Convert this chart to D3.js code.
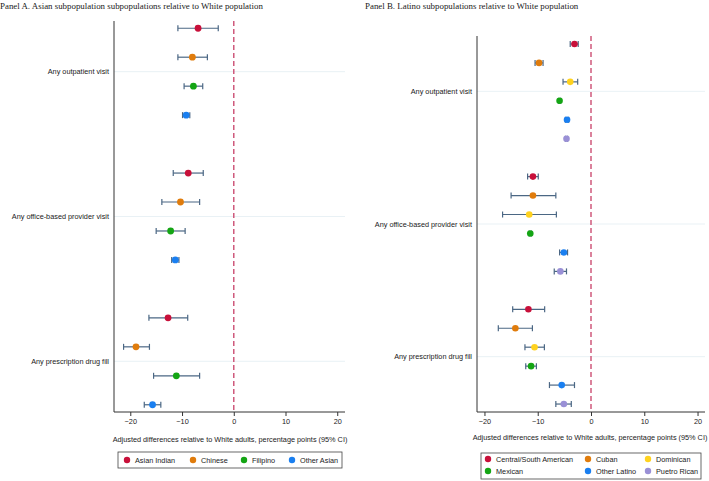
<!DOCTYPE html>
<html><head><meta charset="utf-8">
<script src="https://cdn.jsdelivr.net/npm/d3@7"></script>
<style>
body{margin:0;background:#fff;}
svg text{font-family:"Liberation Sans",Arial,sans-serif;fill:#1a1a1a;}
</style></head>
<body><svg id="c" width="709" height="481"></svg>
<script>
const outcomes = ["Any outpatient visit","Any office-based provider visit","Any prescription drug fill"];
const xTicks = [-20,-10,0,10,20];

// Panel A
const asianGroups = ["Asian Indian","Chinese","Filipino","Other Asian"];
const asianColors = ["#c8103a","#e07c0c","#14a514","#1a7ff0"];
const asianEst = [[-6.9,-8.0,-7.8,-9.2],[-8.8,-10.3,-12.2,-11.3],[-12.7,-18.9,-11.1,-15.7]];
const asianLo  = [[-10.8,-10.8,-9.6,-9.9],[-11.7,-13.9,-15.0,-12.0],[-16.4,-21.3,-15.5,-17.3]];
const asianHi  = [[-3.0,-5.1,-6.0,-8.5],[-5.9,-6.6,-9.4,-10.6],[-8.9,-16.3,-6.6,-14.1]];

// Panel B
const latinoGroups = ["Central/South American","Cuban","Dominican","Mexican","Other Latino","Puetro Rican"];
const latinoColors = ["#c8103a","#e07c0c","#ffd21f","#14a514","#1a7ff0","#9a90d6"];
const latinoEst = [[-3.1,-9.75,-3.9,-5.9,-4.5,-4.6],[-10.9,-10.9,-11.6,-11.4,-5.1,-5.75],[-11.75,-14.2,-10.6,-11.25,-5.5,-5.1]];
const latinoLo  = [[-3.9,-10.5,-5.25,-6.1,-4.8,-4.8],[-11.9,-15.0,-16.6,-11.6,-5.9,-6.9],[-14.7,-17.4,-12.4,-12.25,-7.8,-6.6]];
const latinoHi  = [[-2.4,-9.0,-2.5,-5.7,-4.2,-4.4],[-9.9,-6.6,-6.5,-11.2,-4.4,-4.6],[-8.7,-11.0,-8.75,-10.25,-3.1,-3.7]];

const FS = "7.3px";
const svg = d3.select("#c");

function panel(cfg){
  const {title,titleX,left,right,top,bottom,xDomain,groups,colors,est,lo,hi,r,labelX,pad} = cfg;
  const n = groups.length;
  const nSlots = outcomes.length*n + (outcomes.length-1);
  const x = d3.scaleLinear().domain(xDomain).range([left,right]);
  const y = d3.scaleLinear().domain([-pad, nSlots-1+pad]).range([top,bottom]);
  const g = svg.append("g");
  g.append("text").attr("x",titleX).attr("y",8.5)
    .style("font-size","8.9px").style("font-family","'Liberation Serif','Times New Roman',serif").text(title);
  outcomes.forEach((o,k)=>{
    const s = k*(n+1) + (n-1)/2;
    g.append("line").attr("x1",left).attr("x2",right).attr("y1",y(s)).attr("y2",y(s))
      .attr("stroke","#e3edf2").attr("stroke-width",0.8);
    g.append("text").attr("x",labelX).attr("y",y(s)).attr("dy","0.35em")
      .attr("text-anchor","end").style("font-size",FS).text(o);
  });
  g.append("line").attr("x1",x(0)).attr("x2",x(0)).attr("y1",top).attr("y2",bottom)
    .attr("stroke","#cf5a7c").attr("stroke-width",1.5).attr("stroke-dasharray","5,3");
  outcomes.forEach((o,k)=>{
    groups.forEach((gr,i)=>{
      const s = k*(n+1)+i;
      const yy = y(s);
      const cap = 3;
      g.append("line").attr("x1",x(lo[k][i])).attr("x2",x(hi[k][i])).attr("y1",yy).attr("y2",yy)
        .attr("stroke","#4b6784").attr("stroke-width",1.2);
      [lo[k][i],hi[k][i]].forEach(v=>{
        g.append("line").attr("x1",x(v)).attr("x2",x(v)).attr("y1",yy-cap).attr("y2",yy+cap)
          .attr("stroke","#4b6784").attr("stroke-width",1.2);
      });
      g.append("circle").attr("cx",x(est[k][i])).attr("cy",yy).attr("r",r).attr("fill",colors[i]);
    });
  });
  g.append("line").attr("x1",left).attr("x2",left).attr("y1",top).attr("y2",bottom)
    .attr("stroke","#333").attr("stroke-width",1);
  const ax = g.append("g").attr("transform",`translate(0,${bottom})`)
    .call(d3.axisBottom(x).tickValues(xTicks).tickSize(4).tickPadding(3));
  ax.select(".domain").attr("stroke","#333").attr("d",`M${left},0H${right}`);
  ax.selectAll(".tick line").attr("stroke","#333");
  ax.selectAll("text").style("font-size",FS).style("font-family","'Liberation Sans',Arial,sans-serif").attr("fill","#1a1a1a");
  g.append("text").attr("x",cfg.axTitleX).attr("y",cfg.axTitleY).attr("text-anchor","middle")
    .style("font-size",FS).text("Adjusted differences relative to White adults, percentage points (95% CI)");
}

panel({title:"Panel A. Asian subpopulation subpopulations relative to White population",titleX:0,
  left:114,right:345,top:21,bottom:412,xDomain:[-23.15,21.5],groups:asianGroups,colors:asianColors,
  est:asianEst,lo:asianLo,hi:asianHi,r:3.4,labelX:109,axTitleX:230,axTitleY:442,pad:0.25});
panel({title:"Panel B. Latino subpopulations relative to White population",titleX:365,
  left:477,right:705,top:36,bottom:412,xDomain:[-21.4,21.4],groups:latinoGroups,colors:latinoColors,
  est:latinoEst,lo:latinoLo,hi:latinoHi,r:3.3,labelX:472,axTitleX:590,axTitleY:440,pad:0.42});

const lgA = svg.append("g");
lgA.append("rect").attr("x",118).attr("y",452).attr("width",224).attr("height",16)
  .attr("fill","#fff").attr("stroke","#444").attr("stroke-width",0.8);
const legAX = [127,193,244,292];
asianGroups.forEach((gr,i)=>{
  lgA.append("circle").attr("cx",legAX[i]).attr("cy",460).attr("r",3.2).attr("fill",asianColors[i]);
  lgA.append("text").attr("x",legAX[i]+8).attr("y",460).attr("dy","0.35em").style("font-size",FS).text(gr);
});
const lgB = svg.append("g");
lgB.append("rect").attr("x",481).attr("y",453).attr("width",220).attr("height",26)
  .attr("fill","#fff").attr("stroke","#444").attr("stroke-width",0.8);
const legBX = [488,588,648];
latinoGroups.forEach((gr,i)=>{
  const col = i%3, row = Math.floor(i/3);
  const cy = 459 + row*12;
  lgB.append("circle").attr("cx",legBX[col]).attr("cy",cy).attr("r",3.2).attr("fill",latinoColors[i]);
  lgB.append("text").attr("x",legBX[col]+8).attr("y",cy).attr("dy","0.35em").style("font-size",FS).text(gr);
});
</script></body></html>
